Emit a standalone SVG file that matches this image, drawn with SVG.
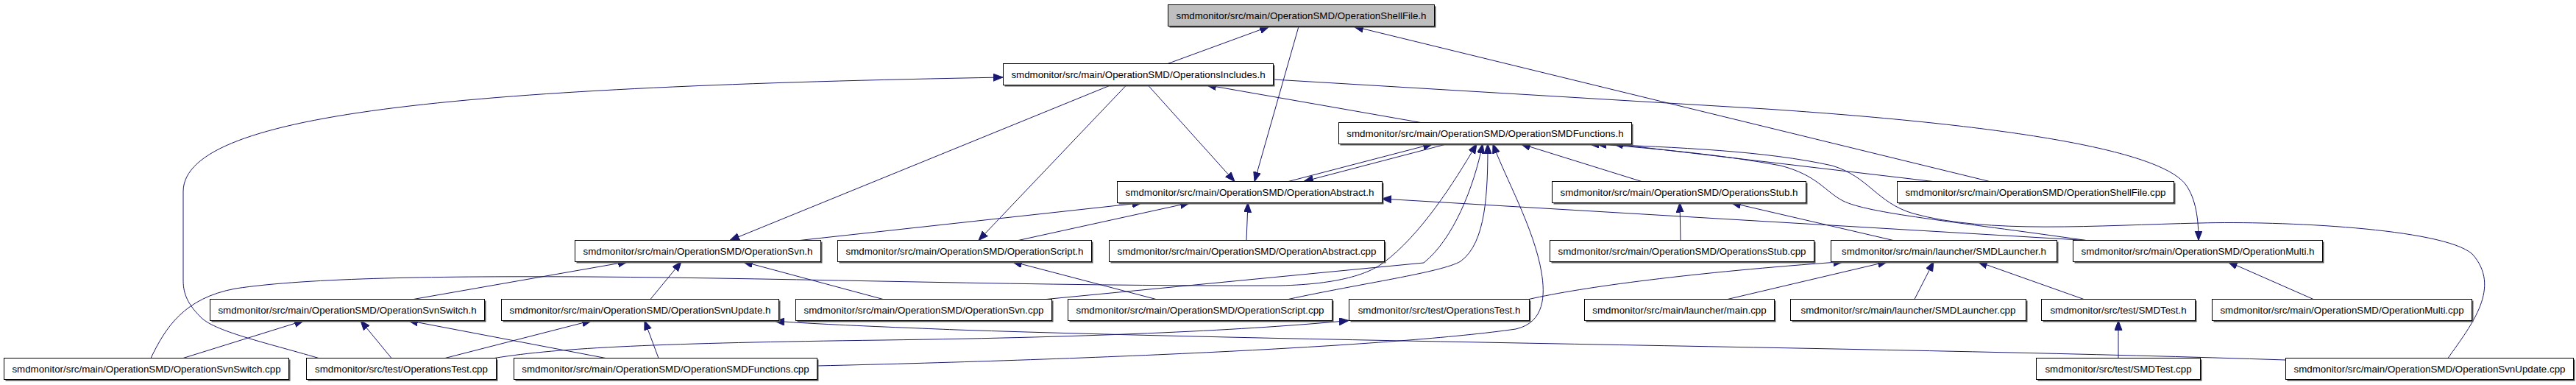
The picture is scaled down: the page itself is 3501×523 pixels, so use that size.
<svg xmlns="http://www.w3.org/2000/svg" width="3501" height="523" viewBox="0 0 3501 523">
<style>
.bx{fill:#ffffff;stroke:#000000;stroke-width:1}
.root .bx{fill:#bfbfbf}
.sh{fill:#5a5a5a;stroke:none}
.lb{font-family:"Liberation Sans",Arial,sans-serif;font-size:13.33px;fill:#000000;text-anchor:middle}
.edges path{fill:none;stroke:#191970;stroke-width:1;marker-end:url(#ah)}
</style>
<defs>
<marker id="ah" markerUnits="userSpaceOnUse" markerWidth="16" markerHeight="12" refX="13" refY="5" orient="auto">
<path d="M0,0 L13,5 L0,10 z" fill="#191970" stroke="#191970" stroke-width="1"/>
</marker>
</defs>
<rect x="0" y="0" width="3501" height="523" fill="#ffffff"/>

<g id="connectors" class="edges">
<path d="M1587,86.5 L1725,36"/>
<path d="M1765,36 L1705,246.5"/>
<path d="M2704,246.5 L1840,36"/>
<path d="M433,486.5 C360,465 290,450 272,430 C252,410 249,395 249,380 L249,260 C250,150 650,118 1363,105"/>
<path d="M1510,115.5 L992,326.5"/>
<path d="M1531,115.5 L1330,326.5"/>
<path d="M1560,115.5 L1678,246.5"/>
<path d="M1731,108 L2400,148 C2700,168 2930,200 2970,250 C2985,270 2988,300 2988,326.5"/>
<path d="M1931,166.5 L1640,115.5"/>
<path d="M1751,246.5 L1947,195.5"/>
<path d="M1967,195.5 L1772,246.5"/>
<path d="M205,486.5 C225,445 250,405 320,392 C420,377 600,375 800,376 C1100,378 1400,389 1740,388 C1820,386 1860,372 1880,357 C1930,320 1975,250 2007,195.5"/>
<path d="M1422,406.5 L1935,357 C1975,325 2003,255 2015,195.5"/>
<path d="M1751,406.5 C1850,385 1960,370 1985,355 C2020,330 2022,260 2022,195.5"/>
<path d="M1110,497 C1500,488 1900,470 2060,447 C2100,438 2100,400 2095,370 C2085,310 2045,240 2029,195.5"/>
<path d="M2231,246.5 L2067,195.5"/>
<path d="M2627,246.5 L2193,195.5"/>
<path d="M2835,326.5 C2650,300 2540,290 2505,273 C2480,260 2470,238 2420,225 C2340,210 2250,202 2170,195.5"/>
<path d="M3327,486.5 C3360,440 3400,390 3360,345 C3320,310 3100,300 2990,303 C2850,306 2700,318 2600,290 C2550,275 2540,240 2490,225 C2400,205 2280,200 2160,195.5"/>
<path d="M1087,326.5 L1552,275.5"/>
<path d="M1384,326.5 L1617,275.5"/>
<path d="M1694,326.5 L1696,275.5"/>
<path d="M2835,326.5 L1878,270"/>
<path d="M2284,326.5 L2283,275.5"/>
<path d="M2573,326.5 L2353,275.5"/>
<path d="M2078,406.5 C2150,390 2300,370 2505,355.5"/>
<path d="M2348,406.5 L2565,355.5"/>
<path d="M2602,406.5 L2628,355.5"/>
<path d="M2832,406.5 L2688,355.5"/>
<path d="M3144,406.5 L3028,355.5"/>
<path d="M2879,486.5 L2879,435.5"/>
<path d="M562,406.5 L853,355.5"/>
<path d="M884,406.5 L926,355.5"/>
<path d="M1200,406.5 L1010,355.5"/>
<path d="M249,486.5 L413,435.5"/>
<path d="M532,486.5 L490,435.5"/>
<path d="M823,486.5 L555,435.5"/>
<path d="M605,486.5 L804,435.5"/>
<path d="M895,486.5 L876,435.5"/>
<path d="M3106,489 C2600,472 1800,465 1300,448 C1200,444 1100,440 1053,436"/>
<path d="M672,486.5 C760,472 900,466 1200,462 C1500,458 1700,448 1833,435.5"/>
<path d="M1571,406.5 L1376,355.5"/>
</g>

<g id="n_shellfile_h" class="root"><rect class="sh" x="1589.5" y="8.5" width="362" height="29"/><rect class="bx" x="1587.5" y="6.5" width="362" height="29"/><text class="lb" x="1768.5" y="25.5">smdmonitor/src/main/OperationSMD/OperationShellFile.h</text></g>
<g id="n_includes_h"><rect class="sh" x="1365.5" y="88.5" width="367" height="29"/><rect class="bx" x="1363.5" y="86.5" width="367" height="29"/><text class="lb" x="1547" y="105.5">smdmonitor/src/main/OperationSMD/OperationsIncludes.h</text></g>
<g id="n_smdfunctions_h"><rect class="sh" x="1821.5" y="168.5" width="398" height="29"/><rect class="bx" x="1819.5" y="166.5" width="398" height="29"/><text class="lb" x="2018.5" y="185.5">smdmonitor/src/main/OperationSMD/OperationSMDFunctions.h</text></g>
<g id="n_abstract_h"><rect class="sh" x="1520.5" y="248.5" width="360" height="29"/><rect class="bx" x="1518.5" y="246.5" width="360" height="29"/><text class="lb" x="1698.5" y="265.5">smdmonitor/src/main/OperationSMD/OperationAbstract.h</text></g>
<g id="n_stub_h"><rect class="sh" x="2111.5" y="248.5" width="345" height="29"/><rect class="bx" x="2109.5" y="246.5" width="345" height="29"/><text class="lb" x="2282" y="265.5">smdmonitor/src/main/OperationSMD/OperationsStub.h</text></g>
<g id="n_shellfile_cpp"><rect class="sh" x="2580.5" y="248.5" width="376" height="29"/><rect class="bx" x="2578.5" y="246.5" width="376" height="29"/><text class="lb" x="2766.5" y="265.5">smdmonitor/src/main/OperationSMD/OperationShellFile.cpp</text></g>
<g id="n_svn_h"><rect class="sh" x="783.5" y="328.5" width="334" height="29"/><rect class="bx" x="781.5" y="326.5" width="334" height="29"/><text class="lb" x="948.5" y="345.5">smdmonitor/src/main/OperationSMD/OperationSvn.h</text></g>
<g id="n_script_h"><rect class="sh" x="1140.5" y="328.5" width="345" height="29"/><rect class="bx" x="1138.5" y="326.5" width="345" height="29"/><text class="lb" x="1311" y="345.5">smdmonitor/src/main/OperationSMD/OperationScript.h</text></g>
<g id="n_abstract_cpp"><rect class="sh" x="1509.5" y="328.5" width="374" height="29"/><rect class="bx" x="1507.5" y="326.5" width="374" height="29"/><text class="lb" x="1694.5" y="345.5">smdmonitor/src/main/OperationSMD/OperationAbstract.cpp</text></g>
<g id="n_stub_cpp"><rect class="sh" x="2108.5" y="328.5" width="359" height="29"/><rect class="bx" x="2106.5" y="326.5" width="359" height="29"/><text class="lb" x="2286" y="345.5">smdmonitor/src/main/OperationSMD/OperationsStub.cpp</text></g>
<g id="n_smdlauncher_h"><rect class="sh" x="2490.5" y="328.5" width="307" height="29"/><rect class="bx" x="2488.5" y="326.5" width="307" height="29"/><text class="lb" x="2642" y="345.5">smdmonitor/src/main/launcher/SMDLauncher.h</text></g>
<g id="n_multi_h"><rect class="sh" x="2819.5" y="328.5" width="339" height="29"/><rect class="bx" x="2817.5" y="326.5" width="339" height="29"/><text class="lb" x="2987" y="345.5">smdmonitor/src/main/OperationSMD/OperationMulti.h</text></g>
<g id="n_svnswitch_h"><rect class="sh" x="287.5" y="408.5" width="373" height="29"/><rect class="bx" x="285.5" y="406.5" width="373" height="29"/><text class="lb" x="472" y="425.5">smdmonitor/src/main/OperationSMD/OperationSvnSwitch.h</text></g>
<g id="n_svnupdate_h"><rect class="sh" x="683.5" y="408.5" width="377" height="29"/><rect class="bx" x="681.5" y="406.5" width="377" height="29"/><text class="lb" x="870" y="425.5">smdmonitor/src/main/OperationSMD/OperationSvnUpdate.h</text></g>
<g id="n_svn_cpp"><rect class="sh" x="1083.5" y="408.5" width="348" height="29"/><rect class="bx" x="1081.5" y="406.5" width="348" height="29"/><text class="lb" x="1255.5" y="425.5">smdmonitor/src/main/OperationSMD/OperationSvn.cpp</text></g>
<g id="n_script_cpp"><rect class="sh" x="1453.5" y="408.5" width="359" height="29"/><rect class="bx" x="1451.5" y="406.5" width="359" height="29"/><text class="lb" x="1631" y="425.5">smdmonitor/src/main/OperationSMD/OperationScript.cpp</text></g>
<g id="n_opstest_h"><rect class="sh" x="1835.5" y="408.5" width="245" height="29"/><rect class="bx" x="1833.5" y="406.5" width="245" height="29"/><text class="lb" x="1956" y="425.5">smdmonitor/src/test/OperationsTest.h</text></g>
<g id="n_main_cpp"><rect class="sh" x="2155.5" y="408.5" width="258" height="29"/><rect class="bx" x="2153.5" y="406.5" width="258" height="29"/><text class="lb" x="2282.5" y="425.5">smdmonitor/src/main/launcher/main.cpp</text></g>
<g id="n_smdlauncher_cpp"><rect class="sh" x="2435.5" y="408.5" width="320" height="29"/><rect class="bx" x="2433.5" y="406.5" width="320" height="29"/><text class="lb" x="2593.5" y="425.5">smdmonitor/src/main/launcher/SMDLauncher.cpp</text></g>
<g id="n_smdtest_h"><rect class="sh" x="2776.5" y="408.5" width="209" height="29"/><rect class="bx" x="2774.5" y="406.5" width="209" height="29"/><text class="lb" x="2879" y="425.5">smdmonitor/src/test/SMDTest.h</text></g>
<g id="n_multi_cpp"><rect class="sh" x="3008.5" y="408.5" width="353" height="29"/><rect class="bx" x="3006.5" y="406.5" width="353" height="29"/><text class="lb" x="3183" y="425.5">smdmonitor/src/main/OperationSMD/OperationMulti.cpp</text></g>
<g id="n_svnswitch_cpp"><rect class="sh" x="7.5" y="488.5" width="387" height="29"/><rect class="bx" x="5.5" y="486.5" width="387" height="29"/><text class="lb" x="199" y="505.5">smdmonitor/src/main/OperationSMD/OperationSvnSwitch.cpp</text></g>
<g id="n_opstest_cpp"><rect class="sh" x="418.5" y="488.5" width="258" height="29"/><rect class="bx" x="416.5" y="486.5" width="258" height="29"/><text class="lb" x="545.5" y="505.5">smdmonitor/src/test/OperationsTest.cpp</text></g>
<g id="n_smdfunctions_cpp"><rect class="sh" x="700.5" y="488.5" width="412" height="29"/><rect class="bx" x="698.5" y="486.5" width="412" height="29"/><text class="lb" x="904.5" y="505.5">smdmonitor/src/main/OperationSMD/OperationSMDFunctions.cpp</text></g>
<g id="n_smdtest_cpp"><rect class="sh" x="2769.5" y="488.5" width="223" height="29"/><rect class="bx" x="2767.5" y="486.5" width="223" height="29"/><text class="lb" x="2879" y="505.5">smdmonitor/src/test/SMDTest.cpp</text></g>
<g id="n_svnupdate_cpp"><rect class="sh" x="3108.5" y="488.5" width="391" height="29"/><rect class="bx" x="3106.5" y="486.5" width="391" height="29"/><text class="lb" x="3302" y="505.5">smdmonitor/src/main/OperationSMD/OperationSvnUpdate.cpp</text></g>
</svg>
